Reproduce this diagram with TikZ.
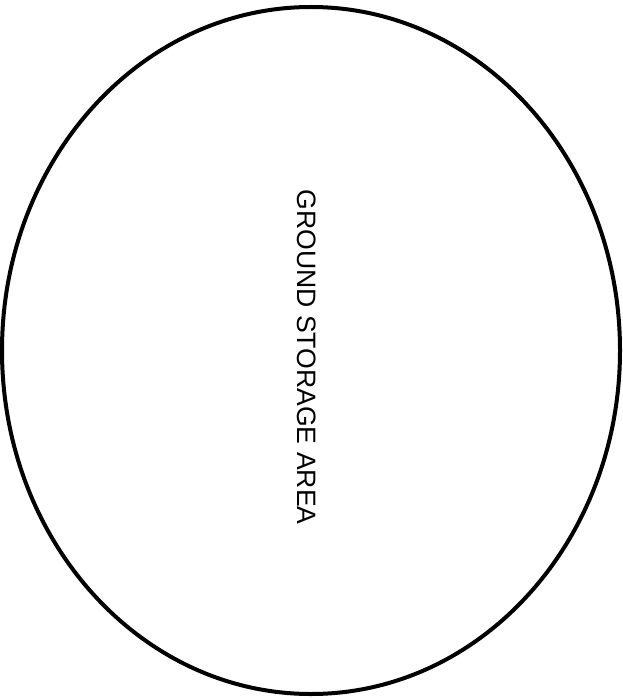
\documentclass[tikz,border=0pt]{standalone}
\usepackage{fontspec}
\setmainfont{Liberation Sans}
\usetikzlibrary{shapes.geometric}
\tikzset{area/.style={draw=black,line width=4pt,ellipse,inner sep=0pt,minimum width=618pt,minimum height=687pt},
lbl/.style={font=\fontsize{26.6}{30}\selectfont,rotate=-90,inner sep=0pt}}
\begin{document}
\begin{tikzpicture}[x=1pt,y=-1pt]
\useasboundingbox (0,0) rectangle (623,698);
\node[area] (e) at (311,350.5) {};
\node[lbl] (t) at (306.5,357) {GROUND STORAGE AREA};
\end{tikzpicture}
\end{document}
